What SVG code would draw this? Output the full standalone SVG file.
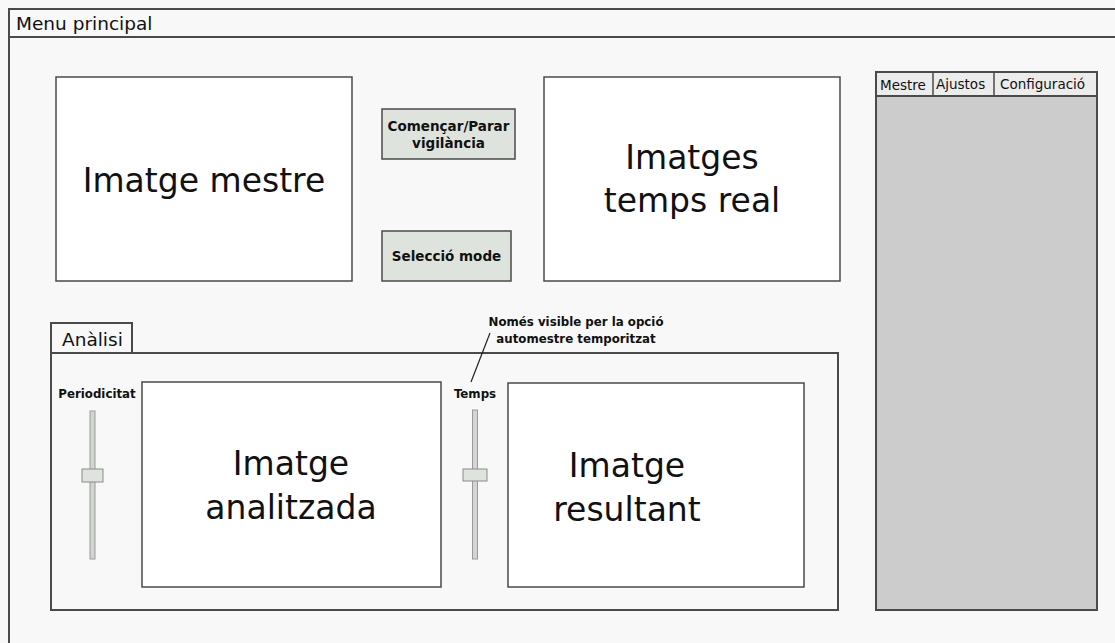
<svg xmlns="http://www.w3.org/2000/svg" width="1115" height="643" viewBox="0 0 1115 643">
  <style>
    .frame { fill: #f8f8f8; stroke: #4a4a4a; stroke-width: 2; }
    .box { fill: #ffffff; stroke: #4a4a4a; stroke-width: 1.5; }
    .btn { fill: #dfe3de; stroke: #4a4a4a; stroke-width: 1.5; }
    .panel { fill: #cccccc; stroke: #4a4a4a; stroke-width: 2; }
    .track { fill: #d2d6d0; stroke: #9a9a9a; stroke-width: 1; }
    .thumb { fill: #dfe3de; stroke: #8a8a8a; stroke-width: 1; }
    .big { font-family: "DejaVu Sans", Verdana, sans-serif; font-size: 33px; fill: #111; text-anchor: middle; }
    .lbl { font-family: "DejaVu Sans", Verdana, sans-serif; font-size: 18.5px; fill: #111; }
    .tab { font-family: "DejaVu Sans", Verdana, sans-serif; font-size: 13.5px; fill: #111; }
    .bold { font-family: "DejaVu Sans", Verdana, sans-serif; font-size: 11.8px; font-weight: bold; fill: #111; text-anchor: middle; }
    .btn-text { font-size: 13.5px; }
    .link { fill: none; stroke: #222; stroke-width: 1.2; }
  </style>

  <rect width="1115" height="643" fill="#f8f8f8"/>

  <!-- main window -->
  <g id="window">
    <rect class="frame" x="9" y="9" width="1120" height="650"/>
    <line x1="9" y1="37" x2="1115" y2="37" stroke="#4a4a4a" stroke-width="2"/>
    <text class="lbl" x="16" y="30">Menu principal</text>
  </g>

  <g id="master-image">
    <rect class="box" x="56" y="77" width="296" height="204"/>
    <text class="big" x="204" y="192">Imatge mestre</text>
  </g>

  <g id="start-stop">
    <rect class="btn" x="382" y="109" width="133" height="50"/>
    <text class="bold btn-text" x="448.5" y="131">Començar/Parar</text>
    <text class="bold btn-text" x="448.5" y="148">vigilància</text>
  </g>

  <g id="mode-select">
    <rect class="btn" x="382" y="231" width="129" height="50"/>
    <text class="bold btn-text" x="446.5" y="261">Selecció mode</text>
  </g>

  <g id="live-images">
    <rect class="box" x="544" y="77" width="296" height="204"/>
    <text class="big" x="692" y="169">Imatges</text>
    <text class="big" x="692" y="212">temps real</text>
  </g>

  <!-- side tabs -->
  <g id="side-panel">
    <rect class="panel" x="876" y="72" width="221" height="538"/>
    <rect x="877" y="73" width="219" height="23" fill="#ececec"/>
    <line x1="876" y1="96" x2="1097" y2="96" stroke="#4a4a4a" stroke-width="2"/>
    <line x1="933" y1="72" x2="933" y2="96" stroke="#4a4a4a" stroke-width="1.5"/>
    <line x1="994" y1="72" x2="994" y2="96" stroke="#4a4a4a" stroke-width="1.5"/>
    <text class="tab" x="880" y="90">Mestre</text>
    <text class="tab" x="936" y="89">Ajustos</text>
    <text class="tab" x="1000" y="89">Configuració</text>
  </g>

  <!-- analysis panel -->
  <g id="analysis">
    <rect class="frame" x="51" y="353" width="787" height="257" stroke-width="2"/>
    <rect class="frame" x="51" y="323" width="81" height="30" stroke-width="1.5"/>
    <text class="lbl" x="62" y="346">Anàlisi</text>
  </g>

  <g id="period-slider">
    <text class="bold" x="97" y="398">Periodicitat</text>
    <rect class="track" x="90" y="411" width="5" height="148"/>
    <rect class="thumb" x="82" y="469" width="21" height="13"/>
  </g>

  <g id="analysed-image">
    <rect class="box" x="142" y="382" width="299" height="205"/>
    <text class="big" x="291" y="475">Imatge</text>
    <text class="big" x="291" y="519">analitzada</text>
  </g>

  <g id="time-slider">
    <text class="bold" x="475" y="398">Temps</text>
    <rect class="track" x="472.5" y="410" width="5" height="149"/>
    <rect class="thumb" x="463" y="469" width="24" height="12"/>
  </g>

  <g id="result-image">
    <rect class="box" x="508" y="383" width="296" height="204"/>
    <text class="big" x="627" y="477">Imatge</text>
    <text class="big" x="627" y="521">resultant</text>
  </g>

  <g id="note">
    <text class="bold" x="576" y="326">Només visible per la opció</text>
    <text class="bold" x="576" y="343">automestre temporitzat</text>
  </g>

  <g id="connectors">
    <line class="link" x1="490" y1="333" x2="471" y2="382"/>
  </g>
</svg>
